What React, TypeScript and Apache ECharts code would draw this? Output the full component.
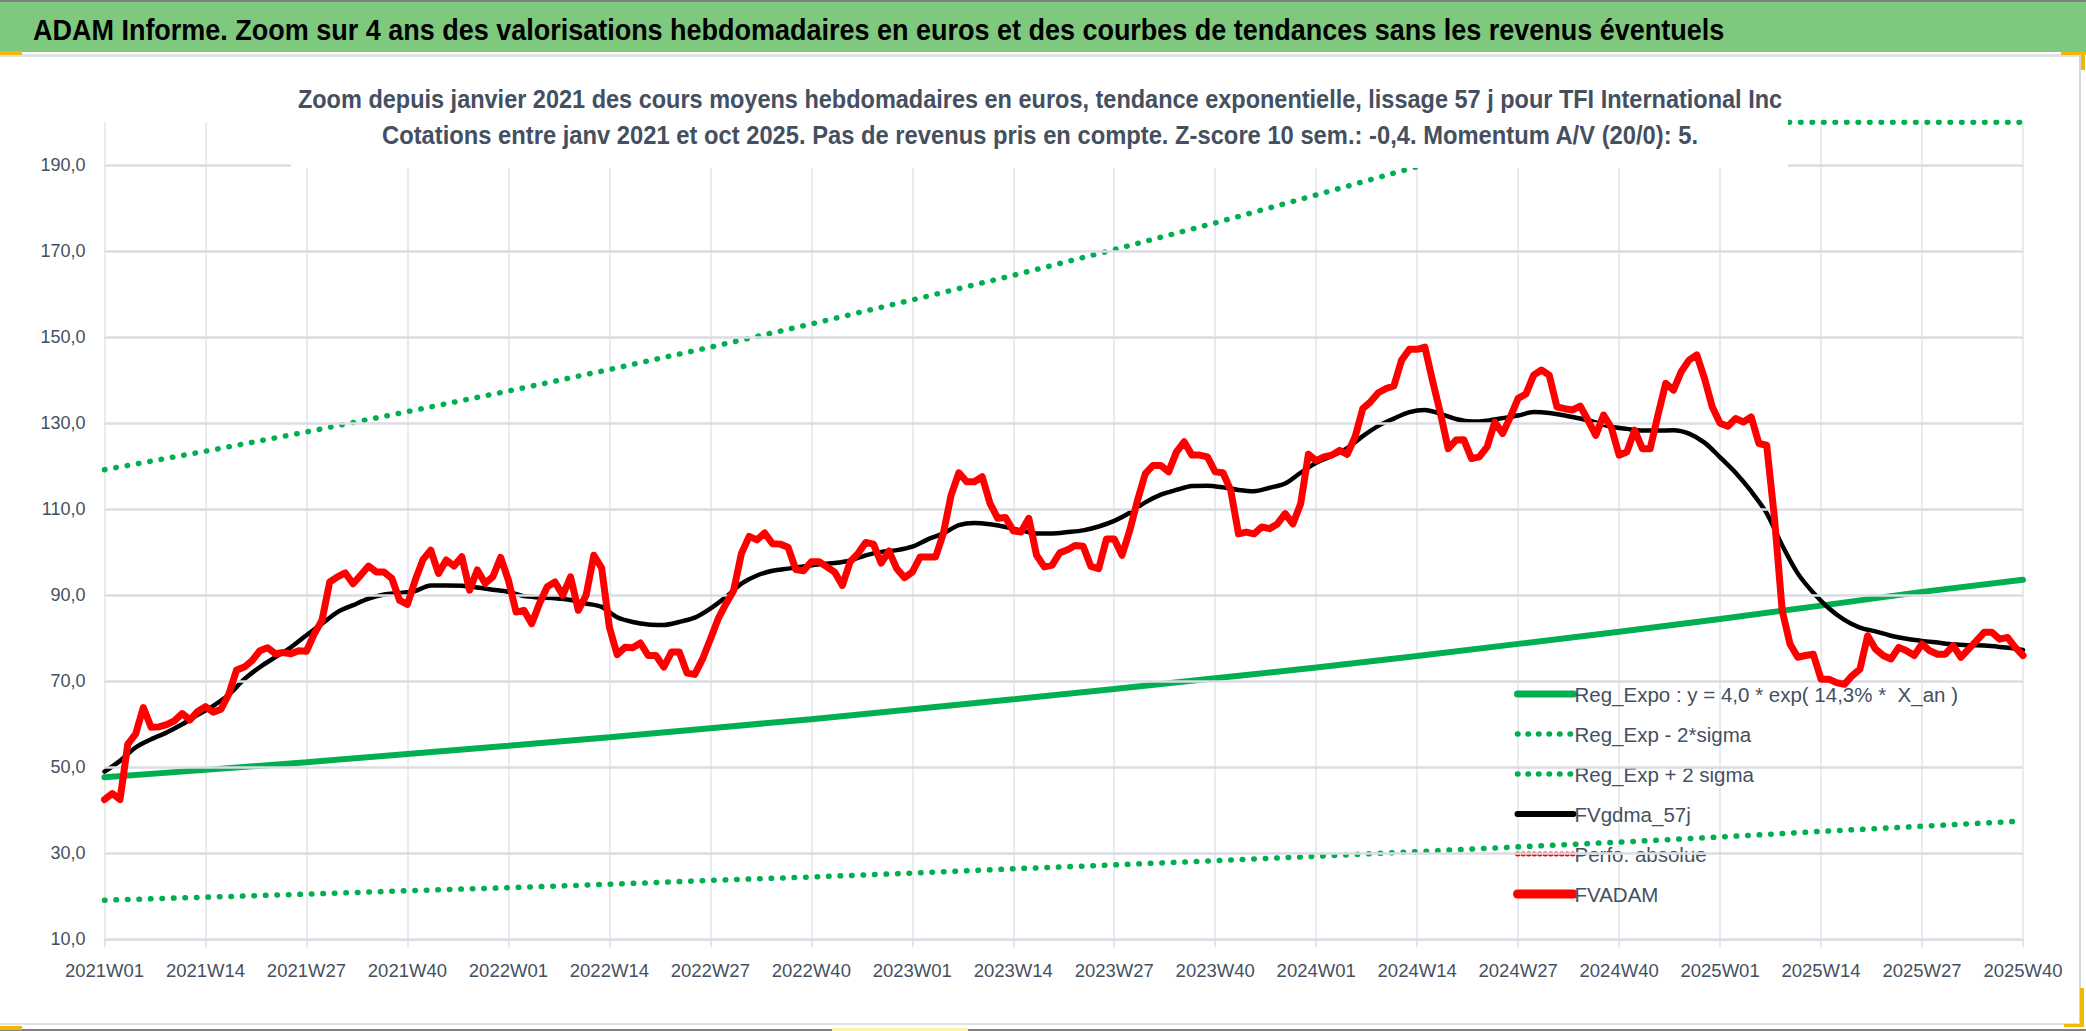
import { useEffect, useRef } from 'react'
import * as echarts from 'echarts'

const years = [2021, 2022, 2023, 2024, 2025]
const weeksPerYear = 52
const lastWeekIndex = 247 // 2025W40

const tickLabels = [
  '2021W01', '2021W14', '2021W27', '2021W40', '2022W01', '2022W14', '2022W27',
  '2022W40', '2023W01', '2023W14', '2023W27', '2023W40', '2024W01', '2024W14',
  '2024W27', '2024W40', '2025W01', '2025W14', '2025W27', '2025W40',
]

const yLabels = [10, 30, 50, 70, 90, 110, 130, 150, 170, 190]

// FVADAM, weekly
const fvadam = [
  42.5, 43.9, 42.5, 55.4, 57.7, 63.9, 59.3, 59.4, 59.9, 60.8,
  62.5, 61.0, 63.0, 64.1, 62.8, 63.5, 67.0, 72.6, 73.3, 74.8,
  77.1, 77.8, 76.4, 76.7, 76.4, 77.1, 77.0, 81.0, 84.2, 93.1,
  94.3, 95.2, 92.7, 94.7, 96.8, 95.4, 95.4, 93.9, 88.8, 87.9,
  93.5, 98.3, 100.5, 95.1, 98.2, 96.8, 99.0, 91.2, 95.9, 92.8,
  94.3, 98.8, 93.5, 86.1, 86.5, 83.4, 88.1, 92.0, 93.1, 90.0,
  94.3, 86.5, 90.0, 99.3, 96.4, 82.6, 76.2, 77.9, 77.8, 78.9,
  76.0, 76.0, 73.3, 76.8, 76.8, 71.9, 71.6, 75.2, 79.8, 84.5,
  88.0, 91.1, 99.7, 103.7, 102.9, 104.5, 102.0, 101.9, 101.2, 96.0,
  95.7, 97.8, 97.8, 96.6, 95.4, 92.3, 97.8, 99.7, 102.3, 101.9,
  97.5, 100.3, 96.2, 94.1, 95.4, 98.9, 98.9, 98.9, 104.4, 113.3,
  118.5, 116.4, 116.4, 117.6, 111.4, 107.9, 108.1, 105.0, 104.7, 107.9,
  99.3, 96.6, 97.0, 99.9, 100.6, 101.6, 101.4, 96.7, 96.2, 103.1,
  103.1, 99.3, 105.1, 112.1, 118.3, 120.2, 120.2, 118.7, 123.3, 125.7,
  122.6, 122.6, 122.2, 118.7, 118.5, 114.4, 104.3, 104.7, 104.3, 105.9,
  105.5, 106.6, 109.0, 106.6, 111.3, 122.8, 121.3, 122.2, 122.6, 123.7,
  122.8, 126.8, 133.4, 135.0, 137.1, 138.1, 138.7, 144.7, 147.2, 147.2,
  147.7, 139.7, 132.3, 124.1, 126.1, 126.2, 121.8, 122.2, 124.5, 130.3,
  127.6, 131.5, 135.8, 136.8, 141.2, 142.4, 141.2, 133.8, 133.4, 133.1,
  134.0, 130.7, 127.2, 131.9, 129.0, 122.6, 123.3, 128.4, 124.1, 124.1,
  131.9, 139.3, 137.7, 142.0, 144.7, 145.9, 140.4, 133.8, 130.0, 129.3,
  131.1, 130.3, 131.5, 125.3, 124.9, 108.0, 86.4, 78.7, 75.6, 76.0,
  76.3, 70.5, 70.5, 69.7, 69.3, 71.3, 72.8, 80.6, 77.5, 76.0,
  75.2, 77.9, 77.1, 76.0, 78.7, 77.1, 76.3, 76.3, 78.3, 75.6,
  77.5, 79.4, 81.4, 81.4, 79.8, 80.2, 77.9, 76.0,
]

// FVgdma_57j, read every 2 weeks (weeks 0, 2, ... 246) and the last week
const fvgdma = [
  49.0, 51.5, 54.6, 56.5, 58.1, 60.0, 62.2, 64.3, 66.9, 70.5,
  73.3, 75.6, 77.9, 80.7, 83.4, 86.1, 87.7, 89.2, 90.2, 90.5,
  91.0, 92.3, 92.3, 92.2, 91.8, 91.3, 90.8, 89.8, 89.5, 89.3,
  88.9, 88.1, 87.3, 84.9, 83.8, 83.2, 83.1, 83.8, 84.8, 86.9,
  89.6, 92.7, 94.6, 95.7, 96.2, 96.7, 97.2, 97.5, 98.1, 99.3,
  100.1, 100.5, 101.3, 103.0, 104.4, 106.3, 106.8, 106.5, 105.9, 105.1,
  104.4, 104.4, 104.7, 105.1, 106.0, 107.3, 109.2, 111.6, 113.4, 114.5,
  115.4, 115.5, 115.1, 114.5, 114.2, 115.0, 116.0, 118.5, 120.8, 122.4,
  124.2, 127.0, 129.4, 131.1, 132.6, 133.1, 132.2, 131.0, 130.4, 130.6,
  131.2, 131.8, 132.6, 132.4, 131.8, 131.1, 130.2, 129.2, 128.7, 128.3,
  128.3, 128.4, 127.6, 125.5, 122.1, 118.5, 114.2, 109.1, 101.6, 95.1,
  90.6, 87.0, 84.3, 82.5, 81.6, 80.6, 79.9, 79.4, 79.0, 78.6,
  78.4, 78.3, 78.0, 77.6, 77.3,
]

// trend curves, read at each labelled tick
const regExpo = [
  47.7, 49.4, 51.2, 53.1, 55.0, 57.0, 59.1, 61.2, 63.5, 65.8,
  68.2, 70.7, 73.2, 75.9, 78.7, 81.5, 84.5, 87.6, 90.8, 93.6,
]
const regLow = [
  19.1, 19.8, 20.5, 21.3, 22.0, 22.8, 23.7, 24.5, 25.4, 26.4,
  27.3, 28.3, 29.3, 30.4, 31.5, 32.6, 33.8, 35.1, 36.3, 37.5,
]
const regHigh = [
  119.2, 123.5, 128.0, 132.7, 137.5, 142.5, 147.7, 153.1, 158.7, 164.4,
  170.4, 176.6, 183.1, 189.7, 196.6, 200, 200, 200, 200, 200,
]

const weeks: string[] = []
years.forEach((y) => {
  for (let w = 1; w <= weeksPerYear; w++) weeks.push(`${y}W${String(w).padStart(2, '0')}`)
})
const categories = weeks.slice(0, lastWeekIndex + 1)

const FONT = "'Liberation Sans', Arial, sans-serif"
const SLATE = '#44505F'
const GREEN = '#00B050'
const RED = '#FF0000'
const dots = { color: GREEN, width: 5.5, type: [0.5, 11], cap: 'round' as const }

const EXPO = 'Reg_Expo : y = 4,0 * exp( 14,3% *  X_an )'

function App() {
  const chartRef = useRef<HTMLDivElement>(null)

  useEffect(() => {
    if (!chartRef.current) return
    const chart = echarts.init(chartRef.current, undefined, { renderer: 'svg' })

    const atTicks = (vals: number[]) => vals.map((v, k) => [tickLabels[k], v])
    const smoothData = fvgdma.map((v, k) => [categories[Math.min(2 * k, lastWeekIndex)], v])

    chart.setOption({
      animation: false,
      backgroundColor: '#fff',
      grid: { left: 104.5, right: 63, top: 122.3, bottom: 91.7 },
      legend: {
        orient: 'vertical',
        left: 1508,
        top: 675,
        itemWidth: 56,
        itemHeight: 14,
        itemGap: 12,
        itemStyle: { opacity: 0 },
        data: [
          { name: EXPO, lineStyle: { color: GREEN, width: 7, cap: 'round' } },
          { name: 'Reg_Exp - 2*sigma', lineStyle: { color: GREEN, width: 5.5, type: [0.5, 10], cap: 'round' } },
          { name: 'Reg_Exp + 2 sigma', lineStyle: { color: GREEN, width: 5.5, type: [0.5, 10], cap: 'round' } },
          { name: 'FVgdma_57j', lineStyle: { color: '#000', width: 6, cap: 'round' } },
          { name: 'Perfo. absolue', lineStyle: { color: RED, width: 5, type: [0.5, 5], cap: 'round' } },
          { name: 'FVADAM', lineStyle: { color: RED, width: 9, cap: 'round' } },
        ],
        textStyle: { color: SLATE, fontSize: 20.5, fontFamily: FONT, lineHeight: 28, padding: [0, 0, 0, -4] },
      },
      xAxis: {
        type: 'category',
        data: categories,
        boundaryGap: false,
        axisLine: { lineStyle: { color: '#DADDE3', width: 2 } },
        axisTick: { show: true, interval: 12, length: 8, lineStyle: { color: '#DADDE3', width: 1.5 } },
        axisLabel: { interval: 12, color: SLATE, fontSize: 18.5, fontFamily: FONT, margin: 22 },
        splitLine: { show: true, interval: 12, lineStyle: { color: '#E2E5EA', width: 1.5 } },
      },
      yAxis: {
        type: 'value',
        min: 10,
        max: 200,
        interval: 10,
        axisLine: { show: false },
        axisTick: { show: false },
        splitLine: { show: false },
        axisLabel: {
          color: SLATE,
          fontSize: 18,
          fontFamily: FONT,
          margin: 19,
          formatter: (v: number) => (yLabels.includes(v) ? v.toFixed(1).replace('.', ',') : ''),
        },
      },
      series: [
        {
          name: 'grid',
          type: 'line',
          data: [],
          z: 1,
          markLine: {
            silent: true,
            symbol: 'none',
            label: { show: false },
            lineStyle: { color: '#DADDE3', width: 2.5, type: 'solid' },
            data: yLabels.map((v) => ({ yAxis: v })),
          },
        },
        {
          name: EXPO,
          type: 'line',
          data: atTicks(regExpo),
          symbol: 'none',
          z: 3,
          lineStyle: { color: GREEN, width: 6, cap: 'round' },
          itemStyle: { color: GREEN },
        },
        {
          name: 'Reg_Exp - 2*sigma',
          type: 'line',
          data: atTicks(regLow),
          symbol: 'none',
          z: 3,
          lineStyle: dots,
          itemStyle: { color: GREEN },
        },
        {
          name: 'Reg_Exp + 2 sigma',
          type: 'line',
          data: atTicks(regHigh),
          symbol: 'none',
          z: 3,
          lineStyle: dots,
          itemStyle: { color: GREEN },
        },
        {
          name: 'FVgdma_57j',
          type: 'line',
          data: smoothData,
          symbol: 'none',
          smooth: 0.3,
          z: 4,
          lineStyle: { color: '#000', width: 4.5, cap: 'round' },
          itemStyle: { color: '#000' },
        },
        {
          name: 'Perfo. absolue',
          type: 'line',
          data: [],
          symbol: 'none',
          z: 4,
          lineStyle: { color: RED, width: 4, type: [0.5, 6], cap: 'round' },
          itemStyle: { color: RED },
        },
        {
          name: 'FVADAM',
          type: 'line',
          data: fvadam,
          symbol: 'none',
          z: 5,
          lineStyle: { color: RED, width: 7, cap: 'round', join: 'round' },
          itemStyle: { color: RED },
        },
      ],
      graphic: [
        { type: 'rect', z: 100, shape: { x: 0, y: 0, width: 2086, height: 52 }, style: { fill: '#7FC97F' } },
        { type: 'rect', z: 101, shape: { x: 0, y: 0, width: 2086, height: 2 }, style: { fill: '#7F7F7F' } },
        { type: 'rect', z: 100, shape: { x: 0, y: 54, width: 2080, height: 3 }, style: { fill: '#DEE1E6' } },
        { type: 'rect', z: 100, shape: { x: 2079, y: 55, width: 2, height: 971 }, style: { fill: '#D4D7DC' } },
        { type: 'rect', z: 100, shape: { x: 0, y: 1023, width: 2080, height: 2 }, style: { fill: '#DEE1E6' } },
        { type: 'rect', z: 100, shape: { x: 0, y: 1029, width: 2086, height: 2 }, style: { fill: '#808080' } },
        { type: 'rect', z: 101, shape: { x: 0, y: 51, width: 22, height: 4 }, style: { fill: '#F2B705' } },
        { type: 'rect', z: 101, shape: { x: 2061, y: 52, width: 25, height: 3 }, style: { fill: '#F2B705' } },
        { type: 'rect', z: 101, shape: { x: 2081, y: 52, width: 4, height: 18 }, style: { fill: '#F2B705' } },
        { type: 'rect', z: 101, shape: { x: 2080, y: 988, width: 4, height: 38 }, style: { fill: '#F2B705' } },
        { type: 'rect', z: 101, shape: { x: 2064, y: 1024, width: 20, height: 3 }, style: { fill: '#F2B705' } },
        { type: 'rect', z: 101, shape: { x: 0, y: 1026, width: 22, height: 4 }, style: { fill: '#F2B705' } },
        { type: 'rect', z: 101, shape: { x: 832, y: 1028, width: 136, height: 3 }, style: { fill: '#FFF0A8' } },
        {
          type: 'text',
          z: 102,
          x: 33,
          y: 29,
          scaleX: 0.9,
          style: {
            text: 'ADAM Informe. Zoom sur 4 ans des valorisations hebdomadaires en euros et des courbes de tendances sans les revenus éventuels',
            fill: '#000',
            fontSize: 30,
            fontWeight: 'bold',
            fontFamily: FONT,
            verticalAlign: 'middle',
          },
        },
        { type: 'rect', z: 100, shape: { x: 291, y: 62, width: 1497, height: 106 }, style: { fill: '#fff' } },
        {
          type: 'text',
          z: 102,
          x: 1040,
          y: 99,
          scaleX: 0.94,
          style: {
            text: 'Zoom depuis janvier 2021 des cours moyens hebdomadaires en euros, tendance exponentielle, lissage 57 j pour TFI International Inc',
            fill: SLATE,
            fontSize: 25,
            fontWeight: 'bold',
            fontFamily: FONT,
            align: 'center',
            verticalAlign: 'middle',
          },
        },
        {
          type: 'text',
          z: 102,
          x: 1040,
          y: 135,
          scaleX: 0.95,
          style: {
            text: 'Cotations entre janv 2021 et oct 2025. Pas de revenus pris en compte. Z-score 10 sem.: -0,4. Momentum A/V (20/0): 5.',
            fill: SLATE,
            fontSize: 25,
            fontWeight: 'bold',
            fontFamily: FONT,
            align: 'center',
            verticalAlign: 'middle',
          },
        },
      ],
    })

    return () => chart.dispose()
  }, [])

  return (
    <div style={{ position: 'fixed', left: 0, top: 0, width: 2086, height: 1031, background: '#fff' }}>
      <div ref={chartRef} style={{ width: 2086, height: 1031 }} />
    </div>
  )
}

export default App
